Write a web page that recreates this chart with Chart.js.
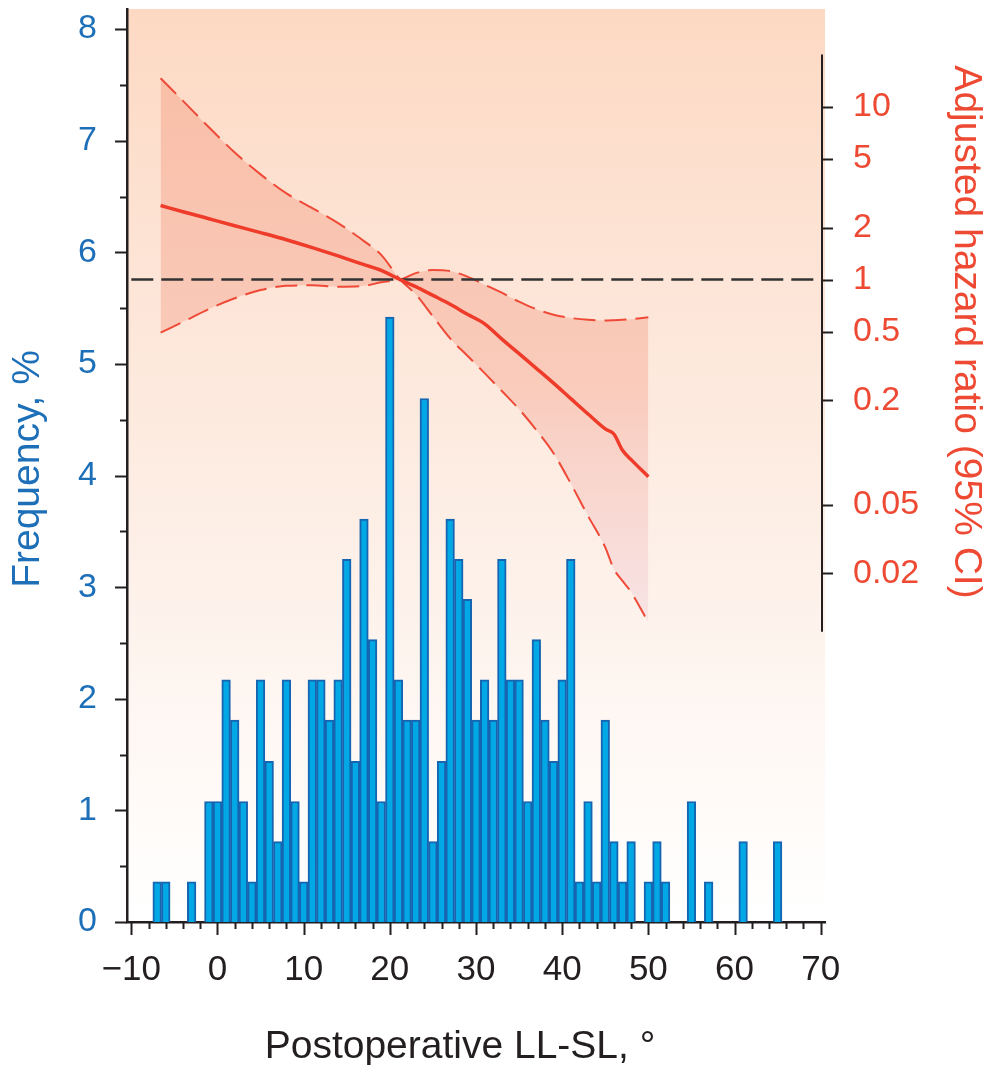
<!DOCTYPE html>
<html>
<head>
<meta charset="utf-8">
<title>Postoperative LL-SL</title>
<script src="https://cdn.jsdelivr.net/npm/chart.js@4.4.1/dist/chart.umd.min.js"></script>
<style>
    html, body { margin: 0; padding: 0; background: #ffffff; }
    #contenedor { width: 991px; height: 1065px; }
</style>
</head>
<body>
<div id="contenedor"><canvas id="grafico" width="991" height="1065"></canvas></div>
<script>
// ========== DATOS ==========

// Histograma: centro de cada intervalo de 1° y frecuencia (%)
const centros = [-7, -6, -3, -1, 0, 1, 2, 3, 4, 5, 6, 7, 8, 9, 10, 11, 12, 13, 14, 15,
    16, 17, 18, 19, 20, 21, 22, 23, 24, 25, 26, 27, 28, 29, 30, 31, 32, 33, 34, 35,
    36, 37, 38, 39, 40, 41, 42, 43, 44, 45, 46, 47, 48, 50, 51, 52, 55, 57, 61, 65];
const frecuencias = [0.36, 0.36, 0.36, 1.08, 1.08, 2.17, 1.81, 1.08, 0.36, 2.17, 1.44, 0.72, 2.17, 1.08, 0.36, 2.17, 2.17, 1.81, 2.17, 3.25,
    1.44, 3.61, 2.53, 1.08, 5.42, 2.17, 1.81, 1.81, 4.69, 0.72, 1.44, 3.61, 3.25, 2.89, 1.81, 2.17, 1.81, 3.25, 2.17, 2.17,
    1.08, 2.53, 1.81, 1.44, 2.17, 3.25, 0.36, 1.08, 0.36, 1.81, 0.72, 0.36, 0.72, 0.36, 0.72, 0.36, 1.08, 0.36, 0.72, 0.72];

// Hazard ratio ajustado y sus dos límites del IC 95% (se cruzan en HR = 1)
const xCurva = [-6.6, -4, -1, 2, 5, 8, 11, 14, 17, 19, 21.2, 23, 25, 27, 29, 31, 33, 35, 37, 39, 41, 43, 45, 46, 47, 48, 50];
const hrCentral = [2.68, 2.47, 2.25, 2.05, 1.87, 1.70, 1.53, 1.37, 1.22, 1.13, 1.00, 0.91, 0.81, 0.72, 0.63, 0.555, 0.453, 0.373, 0.307, 0.252, 0.205, 0.167, 0.137, 0.128, 0.103, 0.091, 0.0725];
const ic95A = [14.6, 10.8, 7.6, 5.43, 4.06, 3.15, 2.59, 2.12, 1.67, 1.39, 1.00, 0.822, 0.613, 0.457, 0.363, 0.288, 0.227, 0.178, 0.135, 0.099, 0.0662, 0.043, 0.0283, 0.0212, 0.0181, 0.0156, 0.0104];
const ic95B = [0.493, 0.57, 0.676, 0.78, 0.87, 0.92, 0.927, 0.91, 0.92, 0.965, 1.00, 1.09, 1.137, 1.12, 1.04, 0.935, 0.84, 0.746, 0.674, 0.627, 0.60, 0.585, 0.58, 0.582, 0.585, 0.59, 0.605];

// Línea de referencia HR = 1
const xReferencia = [-10, 70.15];
const hrReferencia = [1, 1];

// Ticks de los ejes
const ticksX = [-10, 0, 10, 20, 30, 40, 50, 60, 70];
const ticksXMenores = [-8, -6, -4, -2, 2, 4, 6, 8, 12, 14, 16, 18, 22, 24, 26, 28, 32, 34, 36, 38, 42, 44, 46, 48, 52, 54, 56, 58, 62, 64, 66, 68];
const ticksFrecuencia = [0, 1, 2, 3, 4, 5, 6, 7, 8];
const ticksFrecuenciaMenores = [0.5, 1.5, 2.5, 3.5, 4.5, 5.5, 6.5, 7.5];
const ticksHR = [0.02, 0.05, 0.2, 0.5, 1, 2, 5, 10];

// Rangos de los ejes
const rangoX = [-10.5, 70.5];
const rangoFrecuencia = [0, 8.18];
const rangoHR = [0.000193, 36.7];
const extremosEjeHR = [0.0092, 20];

// ========== ESTILO ==========
const FUENTE = '"Liberation Sans", Arial, Helvetica, sans-serif';
const AZUL_TEXTO = '#1d6fb8';
const ROJO_TEXTO = '#ee4a33';
const NEGRO = '#231f20';

Chart.defaults.font.family = FUENTE;

function puntos(xs, ys) {
    return xs.map((x, i) => ({ x: x, y: ys[i] }));
}

// Signo menos tipográfico en los números negativos
function etiquetaNumero(v) {
    return String(v).replace('-', '\u2212');
}

// Sin márgenes extra por las etiquetas de los extremos
function sinRelleno(s) {
    s.paddingTop = 0;
    s.paddingBottom = 0;
    s.paddingLeft = 0;
    s.paddingRight = 0;
}

function rellenoIC(context) {
    const chart = context.chart;
    const area = chart.chartArea;
    if (!area) return 'rgba(243, 155, 130, 0.4)';
    const escala = chart.scales.yHR;
    const g = chart.ctx.createLinearGradient(0, escala.getPixelForValue(15), 0, escala.getPixelForValue(0.01));
    g.addColorStop(0, 'rgba(243, 150, 122, 0.42)');
    g.addColorStop(0.55, 'rgba(244, 158, 135, 0.40)');
    g.addColorStop(1, 'rgba(236, 196, 214, 0.32)');
    return g;
}

// Fondo degradado, marcas de los ejes, eje derecho y títulos
const decoracionEjes = {
    id: 'decoracionEjes',
    beforeDraw(chart) {
        const { ctx, chartArea: a } = chart;
        const g = ctx.createLinearGradient(0, a.top, 0, a.bottom);
        g.addColorStop(0, '#fdd9c3');
        g.addColorStop(0.3, '#fde5d7');
        g.addColorStop(0.6, '#fdf0e8');
        g.addColorStop(0.85, '#fffaf7');
        g.addColorStop(1, '#ffffff');
        ctx.save();
        ctx.fillStyle = g;
        ctx.fillRect(a.left, a.top, a.right - a.left, a.bottom - a.top);
        ctx.restore();
    },
    afterDraw(chart) {
        const { ctx, chartArea: a } = chart;
        const sx = chart.scales.x;
        const sy = chart.scales.yFrec;
        const shr = chart.scales.yHR;

        ctx.save();
        ctx.strokeStyle = NEGRO;
        ctx.lineWidth = 2;
        ctx.beginPath();

        // Eje izquierdo
        ticksFrecuencia.forEach(v => {
            const y = Math.round(sy.getPixelForValue(v)) + 0.5;
            ctx.moveTo(a.left - 12, y);
            ctx.lineTo(a.left, y);
        });
        ticksFrecuenciaMenores.forEach(v => {
            const y = Math.round(sy.getPixelForValue(v)) + 0.5;
            ctx.moveTo(a.left - 7, y);
            ctx.lineTo(a.left, y);
        });

        // Eje inferior
        ticksX.forEach(v => {
            const x = Math.round(sx.getPixelForValue(v)) + 0.5;
            ctx.moveTo(x, a.bottom);
            ctx.lineTo(x, a.bottom + 13);
        });
        ticksXMenores.forEach(v => {
            const x = Math.round(sx.getPixelForValue(v)) + 0.5;
            ctx.moveTo(x, a.bottom);
            ctx.lineTo(x, a.bottom + 7);
        });

        // Eje derecho (hazard ratio)
        const xEje = a.right - 3;
        ctx.moveTo(xEje, shr.getPixelForValue(extremosEjeHR[1]));
        ctx.lineTo(xEje, shr.getPixelForValue(extremosEjeHR[0]));
        ticksHR.forEach(v => {
            const y = Math.round(shr.getPixelForValue(v)) + 0.5;
            ctx.moveTo(xEje, y);
            ctx.lineTo(xEje + 11, y);
        });
        ctx.stroke();

        // Títulos
        ctx.font = '39px ' + FUENTE;
        ctx.textAlign = 'center';
        ctx.textBaseline = 'middle';

        ctx.save();
        ctx.translate(28, 469);
        ctx.rotate(-Math.PI / 2);
        ctx.fillStyle = AZUL_TEXTO;
        ctx.fillText('Frequency, %', 0, 0);
        ctx.restore();

        ctx.save();
        ctx.translate(966, 332);
        ctx.rotate(Math.PI / 2);
        ctx.fillStyle = ROJO_TEXTO;
        ctx.fillText('Adjusted hazard ratio (95% CI)', 0, 0);
        ctx.restore();

        ctx.fillStyle = NEGRO;
        ctx.textBaseline = 'alphabetic';
        ctx.fillText('Postoperative LL-SL, \u00b0', 460, 1058);
        ctx.restore();
    }
};

// ========== GRÁFICO ==========
const ctx = document.getElementById('grafico').getContext('2d');

new Chart(ctx, {
    type: 'bar',
    data: {
        datasets: [
            {
                type: 'bar',
                label: 'Frequency',
                data: puntos(centros, frecuencias),
                yAxisID: 'yFrec',
                backgroundColor: '#00a8e6',
                borderColor: '#1665b1',
                borderWidth: 2,
                barPercentage: 1,
                categoryPercentage: 1,
                order: 4
            },
            {
                type: 'line',
                label: 'IC 95% A',
                data: puntos(xCurva, ic95A),
                yAxisID: 'yHR',
                borderColor: '#ef4a38',
                borderWidth: 2,
                borderDash: [22, 9],
                pointRadius: 0,
                cubicInterpolationMode: 'monotone',
                fill: false,
                order: 2
            },
            {
                type: 'line',
                label: 'IC 95% B',
                data: puntos(xCurva, ic95B),
                yAxisID: 'yHR',
                borderColor: '#ef4a38',
                borderWidth: 2,
                borderDash: [22, 9],
                pointRadius: 0,
                cubicInterpolationMode: 'monotone',
                backgroundColor: rellenoIC,
                fill: 1,
                order: 3
            },
            {
                type: 'line',
                label: 'HR = 1',
                data: puntos(xReferencia, hrReferencia),
                yAxisID: 'yHR',
                borderColor: '#333333',
                borderWidth: 2.5,
                borderDash: [22, 8],
                pointRadius: 0,
                fill: false,
                order: 1
            },
            {
                type: 'line',
                label: 'Adjusted HR',
                data: puntos(xCurva, hrCentral),
                yAxisID: 'yHR',
                borderColor: '#ee3b2a',
                borderWidth: 3.5,
                pointRadius: 0,
                cubicInterpolationMode: 'monotone',
                fill: false,
                order: 0
            }
        ]
    },
    options: {
        responsive: false,
        devicePixelRatio: 1,
        animation: false,
        layout: { padding: { top: 9, left: 0, right: 0, bottom: 0 } },
        plugins: {
            legend: { display: false },
            tooltip: { enabled: false }
        },
        scales: {
            x: {
                type: 'linear',
                min: rangoX[0],
                max: rangoX[1],
                offset: false,
                grid: { display: false, drawTicks: false },
                border: { display: true, color: NEGRO, width: 2.5 },
                ticks: {
                    autoSkip: false,
                    maxRotation: 0,
                    color: NEGRO,
                    font: { size: 35 },
                    padding: 27,
                    callback: etiquetaNumero
                },
                afterBuildTicks: s => { s.ticks = ticksX.map(v => ({ value: v })); },
                afterFit: s => { s.height = 143; sinRelleno(s); }
            },
            yFrec: {
                type: 'linear',
                position: 'left',
                min: rangoFrecuencia[0],
                max: rangoFrecuencia[1],
                grid: { display: false, drawTicks: false },
                border: { display: true, color: NEGRO, width: 2.5 },
                ticks: {
                    color: AZUL_TEXTO,
                    font: { size: 34 },
                    padding: 30,
                    callback: etiquetaNumero
                },
                afterBuildTicks: s => { s.ticks = ticksFrecuencia.map(v => ({ value: v })); },
                afterFit: s => { s.width = 127; sinRelleno(s); }
            },
            yHR: {
                type: 'logarithmic',
                position: 'right',
                min: rangoHR[0],
                max: rangoHR[1],
                grid: { display: false, drawTicks: false },
                border: { display: false },
                ticks: {
                    color: ROJO_TEXTO,
                    font: { size: 34 },
                    padding: 28,
                    callback: v => String(v)
                },
                afterBuildTicks: s => { s.ticks = ticksHR.map(v => ({ value: v })); },
                afterFit: s => { s.width = 166; sinRelleno(s); }
            }
        }
    },
    plugins: [decoracionEjes]
});
</script>
</body>
</html>
